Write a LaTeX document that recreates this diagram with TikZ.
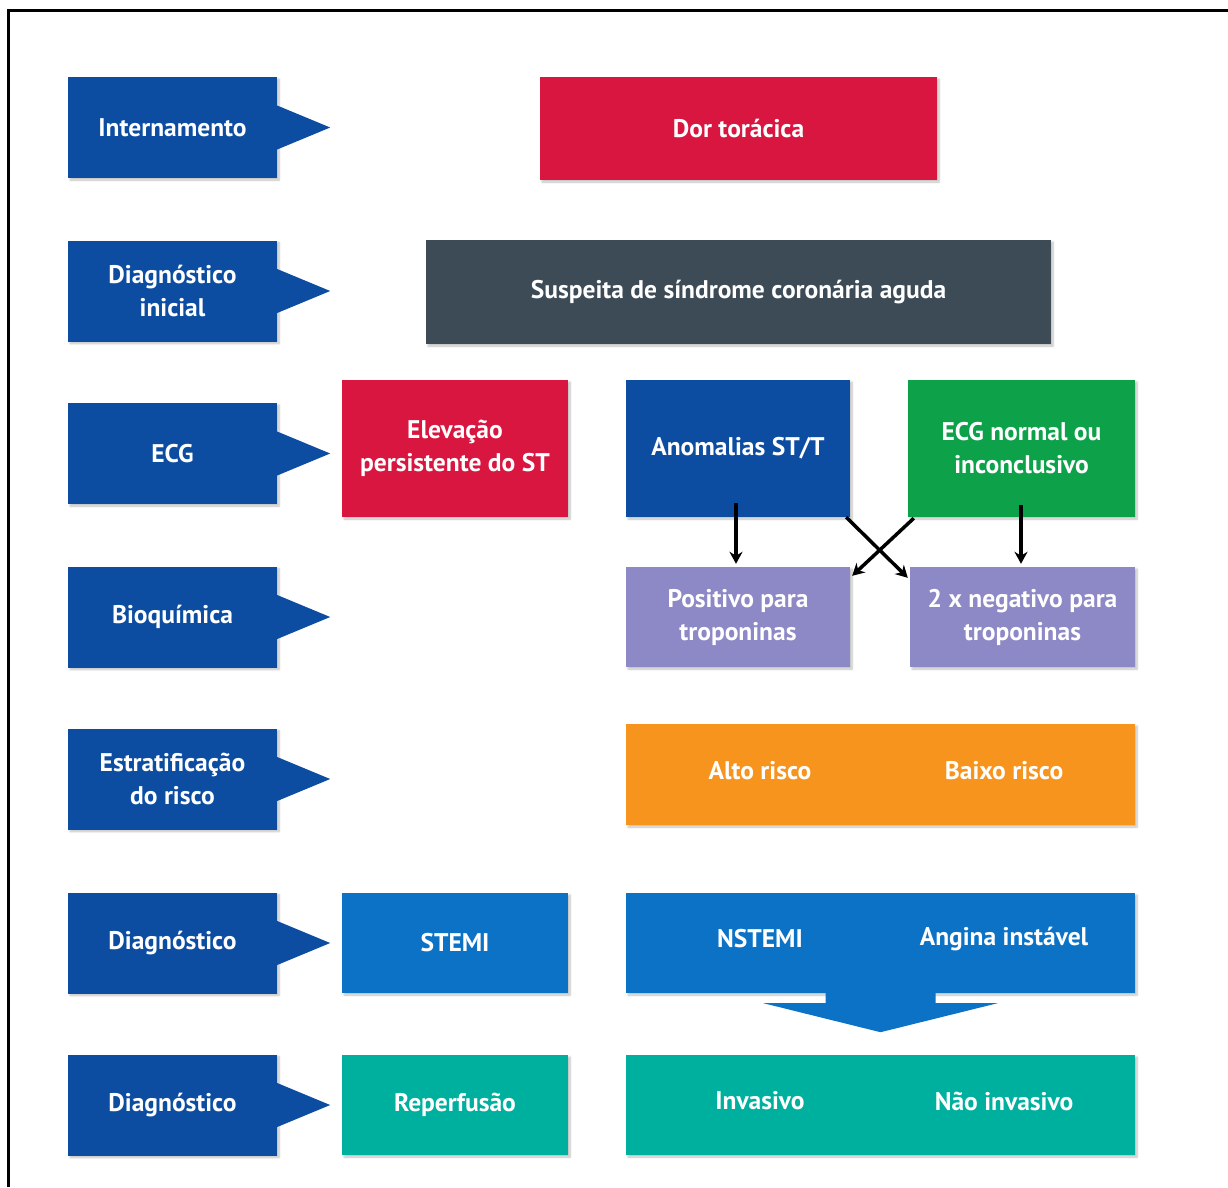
\documentclass[tikz,border=0pt]{standalone}
\usepackage{fontspec}
\setmainfont{PT Sans}
\usetikzlibrary{arrows.meta,calc,shadows.blur}
\definecolor{navy}{HTML}{0D4DA1}
\definecolor{crimson}{HTML}{D8163F}
\definecolor{slate}{HTML}{3D4B57}
\definecolor{ecggreen}{HTML}{0DA24A}
\definecolor{lavender}{HTML}{8D88C6}
\definecolor{riskorange}{HTML}{F7941D}
\definecolor{diagblue}{HTML}{0B72C6}
\definecolor{teal}{HTML}{00B09E}
\begin{document}
\begin{tikzpicture}[x=1pt,y=-1pt,
  box/.style={draw=none, inner sep=0pt, text=white, align=center,
    font=\bfseries\fontsize{25.5}{33}\selectfont,
    blur shadow={shadow xshift=2pt, shadow yshift=-2pt, shadow blur steps=6, shadow opacity=25}},
  lbl/.style={inner sep=0pt, text=white, align=center, font=\bfseries\fontsize{25.5}{33}\selectfont},
  leftbox/.style={box, fill=navy, minimum width=209pt, minimum height=101pt},
  conn/.style={line width=3.5pt, black, -{Stealth[length=12pt,width=13pt]}}
]
\useasboundingbox (0,0) rectangle (1228,1187);
\draw[line width=3pt] (8,1187) -- (8,10) -- (1228,10);

% left column
\node[leftbox] (l1) at (172.5,127.5) {Internamento};
\node[leftbox] (l2) at (172.5,291) {Diagnóstico\\inicial};
\node[leftbox] (l3) at (172.5,453.5) {ECG};
\node[leftbox] (l4) at (172.5,617) {Bioquímica};
\node[leftbox] (l5) at (172.5,779) {Estratificação\\do risco};
\node[leftbox] (l6) at (172.5,943) {Diagnóstico};
\node[leftbox] (l7) at (172.5,1105) {Diagnóstico};
\foreach \n in {l1,l2,l3,l4,l5,l6,l7}{
  \fill[navy] ($(\n.east)+(0,-22)$) -- ($(\n.east)+(53,0)$) -- ($(\n.east)+(0,22)$) -- cycle;
}

% right side
\node[box, fill=crimson, minimum width=397pt, minimum height=103pt] (dor) at (738.5,128.5) {Dor torácica};
\node[box, fill=slate, minimum width=625pt, minimum height=104pt] (sus) at (738.5,292) {Suspeita de síndrome coronária aguda};
\node[box, fill=crimson, minimum width=226pt, minimum height=137pt] (elev) at (455,448.5) {Elevação\\persistente do ST};
\node[box, fill=navy, minimum width=224pt, minimum height=137pt] (anom) at (738,448.5) {Anomalias ST/T};
\node[box, fill=ecggreen, minimum width=227pt, minimum height=137pt] (ecgn) at (1021.5,448.5) {ECG normal ou\\inconclusivo};
\node[box, fill=lavender, minimum width=224pt, minimum height=100pt] (pos) at (738,617) {Positivo para\\troponinas};
\node[box, fill=lavender, minimum width=225pt, minimum height=100pt] (neg) at (1022.5,617) {2 x negativo para\\troponinas};

\node[box, fill=riskorange, minimum width=509pt, minimum height=101pt] (risk) at (880.5,774.5) {};
\node[lbl] (alto) at (760,771) {Alto risco};
\node[lbl] (baixo) at (1004,771) {Baixo risco};

\node[box, fill=diagblue, minimum width=226pt, minimum height=100pt] (stemi) at (455,943) {STEMI};
\node[box, fill=diagblue, minimum width=509pt, minimum height=100pt] (nst) at (880.5,943) {};
\node[lbl] (nstemi) at (760,939) {NSTEMI};
\node[lbl] (angina) at (1004,939) {Angina instável};

\fill[diagblue] ($(nst.south)+(-55,-1)$) -- ($(nst.south)+(-55,10)$) -- ($(nst.south)+(-117,10)$)
  -- ($(nst.south)+(0,39)$) -- ($(nst.south)+(117,10)$) -- ($(nst.south)+(55,10)$) -- ($(nst.south)+(55,-1)$) -- cycle;

\node[box, fill=teal, minimum width=226pt, minimum height=100pt] (rep) at (455,1105) {Reperfusão};
\node[box, fill=teal, minimum width=509pt, minimum height=100pt] (inv) at (880.5,1105) {};
\node[lbl] (invas) at (760,1101) {Invasivo};
\node[lbl] (ninvas) at (1004,1101) {Não invasivo};

% connectors
\draw[conn] ($(anom.south)+(-2,-14)$) -- ($(pos.north)+(-2,-3)$);
\draw[conn] ($(ecgn.south)+(-0.5,-12)$) -- ($(neg.north)+(-1.5,-3)$);
\draw[conn] ($(anom.south east)+(-4,0)$) -- ($(neg.north west)+(-2,11)$);
\draw[conn] ($(ecgn.south west)+(6,1)$) -- ($(pos.north east)+(2,9)$);
\end{tikzpicture}
\end{document}
